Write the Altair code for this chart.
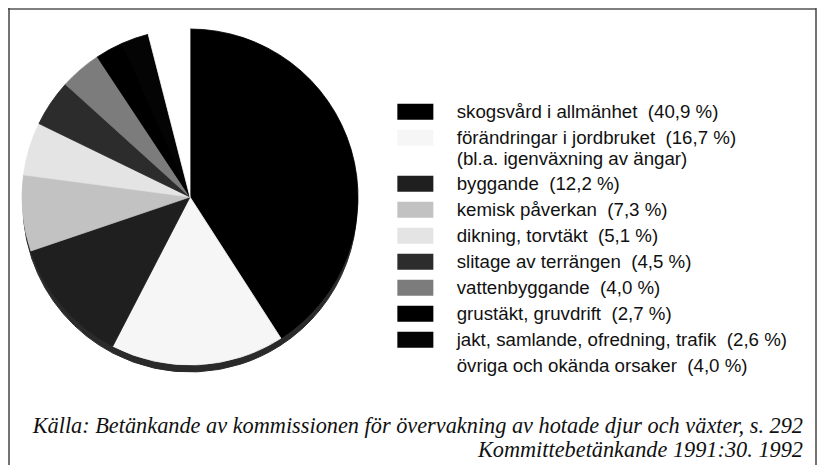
import altair as alt
import pandas as pd

# ---- data ----
categories = [
    "skogsvård i allmänhet",
    "förändringar i jordbruket",
    "byggande",
    "kemisk påverkan",
    "dikning, torvtäkt",
    "slitage av terrängen",
    "vattenbyggande",
    "grustäkt, gruvdrift",
    "jakt, samlande, ofredning, trafik",
    "övriga och okända orsaker",
]
percent_text = ["40,9 %", "16,7 %", "12,2 %", "7,3 %", "5,1 %",
                "4,5 %", "4,0 %", "2,7 %", "2,6 %", "4,0 %"]
values = [40.9, 16.7, 12.2, 7.3, 5.1, 4.5, 4.0, 2.7, 2.6, 4.0]
notes = ["", "(bl.a. igenväxning av ängar)", "", "", "", "", "", "", "", ""]
colors = ["#000000", "#f6f6f6", "#1f1f1f", "#c2c2c2", "#e4e4e4",
          "#2c2c2c", "#7c7c7c", "#000000", "#040404", "#ffffff"]
source_lines = [
    "Källa: Betänkande av kommissionen för övervakning av hotade djur och växter, s. 292",
    "Kommittebetänkande 1991:30. 1992",
]

labels = []
for c, p, n in zip(categories, percent_text, notes):
    s = f"{c}\u00a0 ({p})"
    if n:
        s += "|" + n
    labels.append(s)

df = pd.DataFrame({"label": labels, "value": values, "idx": list(range(len(values)))})

W, H = 809, 457
CX, CY, R = 182, 189, 168

# dark rim under the pie (printed 3-D edge): the same pie, shifted down, in dark grey
shadow = alt.Chart(df).mark_arc(
    outerRadius=R - 1, color="#2a2a2a", stroke="#2a2a2a", strokeWidth=1
).encode(
    theta=alt.Theta("value:Q", stack=True),
    order=alt.Order("idx:Q"),
    x=alt.value(CX),
    y=alt.value(CY + 8),
)

color_scale = alt.Scale(domain=labels, range=colors)

pie = alt.Chart(df).mark_arc(outerRadius=R, strokeWidth=0.8).encode(
    theta=alt.Theta("value:Q", stack=True),
    order=alt.Order("idx:Q"),
    stroke=alt.Stroke("label:N", scale=color_scale, legend=None),
    color=alt.Color(
        "label:N",
        scale=color_scale,
        legend=alt.Legend(
            title=None,
            orient="none",
            legendX=398,
            legendY=94.5,
            padding=0,
            symbolType="M-2.25,-1H2.25V1H-2.25Z",
            symbolSize=256,
            symbolStrokeWidth=0,
            symbolOpacity=1,
            labelFont="Liberation Sans",
            labelFontSize=18.7,
            labelColor="#111111",
            labelLimit=0,
            labelOffset=32,
            rowPadding=6,
            labelExpr="split(datum.label, '|')",
        ),
    ),
    x=alt.value(CX),
    y=alt.value(CY),
)

caption = alt.Chart(pd.DataFrame({"t": ["|".join(source_lines)]})).mark_text(
    align="right",
    baseline="alphabetic",
    font="Liberation Serif",
    fontStyle="italic",
    fontSize=22.3,
    lineBreak="|",
    lineHeight=24,
    color="#111111",
).encode(text="t:N", x=alt.value(795), y=alt.value(425))

frame_top = alt.Chart(pd.DataFrame({"v": [1]})).mark_rule(
    color="#555555", strokeWidth=1.5
).encode(x=alt.value(0), x2=alt.value(W - 1), y=alt.value(1))
frame_left = alt.Chart(pd.DataFrame({"v": [1]})).mark_rule(
    color="#444444", strokeWidth=1.5
).encode(x=alt.value(1), y=alt.value(0), y2=alt.value(H))
frame_right = alt.Chart(pd.DataFrame({"v": [1]})).mark_rule(
    color="#444444", strokeWidth=1.5
).encode(x=alt.value(W - 1), y=alt.value(0), y2=alt.value(H))

chart = alt.layer(shadow, pie, caption, frame_top, frame_left, frame_right).properties(
    width=W, height=H, padding=0, autosize=alt.AutoSizeParams(type="none")
).configure_view(stroke=None)

chart.save("out.html", embed_options={"renderer": "svg", "actions": False})
